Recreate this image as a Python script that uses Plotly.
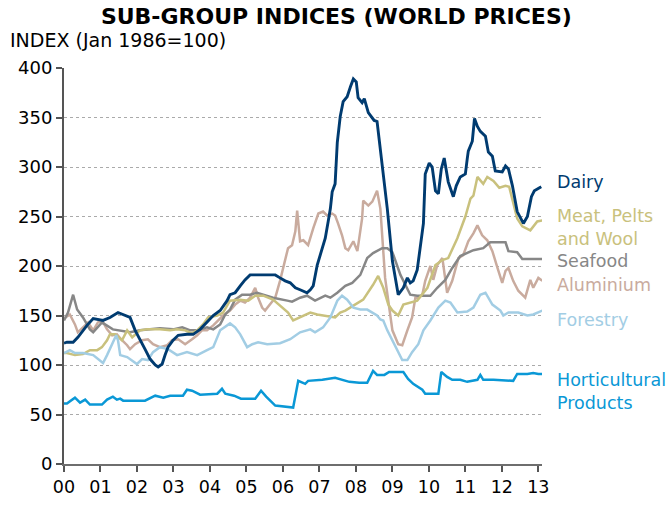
import plotly.graph_objects as go

BASE_YEAR = 2000
tick_labels = ["00", "01", "02", "03", "04", "05", "06", "07", "08", "09", "10", "11", "12", "13"]

# (years since Jan 2000, index value)
dairy_t = [0.00, 0.08, 0.25, 0.38, 0.63, 0.80, 1.07, 1.26, 1.48, 1.67, 1.81, 1.95, 2.08, 2.22, 2.36, 2.50, 2.58, 2.69, 2.77, 2.85, 2.99, 3.13, 3.37, 3.54, 3.73, 3.92, 4.09, 4.28, 4.47, 4.55, 4.69, 4.83, 4.96, 5.10, 5.79, 5.92, 6.06, 6.20, 6.34, 6.47, 6.66, 6.75, 6.83, 6.94, 7.02, 7.16, 7.24, 7.30, 7.35, 7.43, 7.49, 7.57, 7.65, 7.76, 7.85, 7.93, 8.01, 8.06, 8.17, 8.23, 8.34, 8.45, 8.50, 8.58, 8.64, 8.75, 8.86, 9.00, 9.16, 9.30, 9.41, 9.49, 9.57, 9.68, 9.76, 9.85, 9.90, 10.01, 10.09, 10.18, 10.26, 10.34, 10.42, 10.53, 10.67, 10.75, 10.86, 11.00, 11.05, 11.08, 11.19, 11.25, 11.33, 11.41, 11.55, 11.63, 11.74, 11.82, 12.01, 12.10, 12.18, 12.29, 12.42, 12.59, 12.70, 12.81, 12.89, 13.08]
dairy_v = [122, 123, 123, 128, 140, 147, 145, 148, 153, 150, 148, 135, 125, 116, 106, 100, 98, 101, 110, 118, 125, 130, 131, 131, 136, 143, 150, 155, 165, 171, 173, 180, 186, 191, 191, 188, 185, 183, 178, 176, 173, 176, 180, 201, 211, 228, 245, 258, 275, 283, 325, 351, 366, 371, 381, 389, 386, 370, 365, 369, 355, 350, 347, 346, 328, 295, 258, 205, 171, 178, 188, 183, 185, 196, 220, 243, 293, 304, 300, 276, 273, 298, 309, 285, 270, 281, 290, 293, 308, 316, 326, 349, 341, 336, 331, 315, 311, 296, 295, 301, 298, 281, 255, 243, 250, 270, 276, 280]

meat_t = [0.00, 0.08, 0.30, 0.52, 0.71, 0.91, 1.04, 1.18, 1.26, 1.40, 1.59, 1.73, 1.87, 2.08, 2.28, 2.63, 2.91, 3.10, 3.32, 3.51, 3.65, 3.81, 3.95, 4.20, 4.36, 4.55, 4.83, 5.05, 5.24, 5.46, 5.73, 5.98, 6.14, 6.28, 6.47, 6.75, 6.94, 7.10, 7.43, 7.57, 7.71, 7.93, 8.20, 8.47, 8.61, 8.75, 8.89, 9.00, 9.16, 9.30, 9.49, 9.68, 9.96, 10.18, 10.37, 10.53, 10.78, 11.00, 11.14, 11.22, 11.33, 11.49, 11.60, 11.77, 11.93, 12.10, 12.20, 12.31, 12.42, 12.56, 12.78, 12.97, 13.11]
meat_v = [112, 112, 110, 111, 115, 115, 118, 125, 131, 131, 125, 135, 128, 135, 136, 136, 135, 136, 135, 132, 135, 141, 148, 150, 153, 165, 166, 165, 170, 170, 166, 158, 153, 145, 148, 153, 151, 150, 148, 153, 155, 160, 166, 181, 190, 178, 161, 155, 150, 161, 163, 165, 178, 201, 206, 208, 228, 250, 268, 271, 290, 283, 290, 286, 279, 281, 280, 265, 248, 240, 236, 245, 246]

seafood_t = [0.00, 0.11, 0.25, 0.36, 0.52, 0.71, 0.80, 0.91, 1.04, 1.34, 1.54, 1.81, 2.08, 2.28, 2.63, 2.99, 3.24, 3.46, 3.65, 3.92, 4.09, 4.28, 4.42, 4.55, 4.69, 4.88, 5.10, 5.29, 5.46, 5.73, 6.12, 6.25, 6.47, 6.66, 6.88, 7.16, 7.30, 7.49, 7.71, 7.90, 8.12, 8.31, 8.47, 8.72, 8.86, 9.00, 9.22, 9.49, 9.68, 10.04, 10.23, 10.45, 10.64, 10.86, 11.22, 11.49, 11.68, 12.10, 12.18, 12.42, 12.56, 13.11]
seafood_v = [145, 153, 171, 156, 148, 136, 133, 138, 143, 136, 135, 133, 135, 136, 137, 136, 138, 135, 135, 138, 136, 141, 151, 156, 166, 171, 171, 173, 171, 168, 165, 164, 168, 170, 165, 170, 168, 173, 180, 183, 191, 208, 213, 218, 218, 214, 191, 171, 170, 170, 178, 186, 198, 210, 216, 218, 224, 224, 215, 214, 207, 207]

alu_t = [0.00, 0.16, 0.30, 0.38, 0.52, 0.66, 0.80, 0.93, 1.04, 1.18, 1.32, 1.45, 1.59, 1.73, 1.81, 1.95, 2.14, 2.30, 2.44, 2.63, 2.83, 2.96, 3.13, 3.32, 3.51, 3.65, 3.78, 3.92, 4.09, 4.22, 4.36, 4.55, 4.69, 4.83, 4.96, 5.10, 5.24, 5.32, 5.43, 5.51, 5.65, 5.79, 5.92, 6.06, 6.14, 6.25, 6.34, 6.39, 6.47, 6.56, 6.69, 6.83, 6.97, 7.10, 7.21, 7.35, 7.43, 7.51, 7.62, 7.71, 7.79, 7.93, 8.04, 8.17, 8.20, 8.34, 8.45, 8.58, 8.67, 8.80, 9.00, 9.16, 9.27, 9.41, 9.54, 9.63, 9.71, 9.82, 9.90, 10.04, 10.12, 10.23, 10.37, 10.50, 10.64, 10.81, 10.94, 11.08, 11.22, 11.33, 11.46, 11.60, 11.74, 11.88, 12.01, 12.10, 12.18, 12.31, 12.45, 12.64, 12.78, 12.86, 13.00, 13.11]
alu_v = [147, 151, 141, 133, 138, 143, 135, 143, 145, 136, 130, 131, 125, 120, 116, 121, 125, 126, 121, 118, 120, 125, 126, 121, 126, 130, 135, 135, 140, 145, 150, 155, 161, 165, 163, 168, 178, 168, 158, 155, 161, 168, 185, 208, 218, 221, 235, 256, 225, 226, 221, 238, 253, 255, 251, 253, 251, 243, 231, 218, 216, 225, 215, 248, 266, 261, 265, 276, 258, 188, 135, 121, 120, 135, 148, 168, 168, 171, 185, 200, 186, 201, 208, 173, 185, 208, 211, 225, 233, 241, 231, 226, 215, 198, 183, 195, 198, 185, 175, 168, 186, 178, 188, 185]

forestry_t = [0.00, 0.16, 0.30, 0.52, 0.80, 0.93, 1.07, 1.18, 1.32, 1.43, 1.48, 1.54, 1.73, 2.00, 2.14, 2.30, 2.44, 2.63, 2.85, 3.10, 3.37, 3.65, 3.92, 4.09, 4.28, 4.55, 4.69, 4.83, 5.02, 5.16, 5.32, 5.57, 5.92, 6.20, 6.47, 6.75, 6.88, 7.10, 7.30, 7.49, 7.62, 7.76, 7.93, 8.12, 8.31, 8.58, 8.67, 8.75, 8.86, 9.08, 9.27, 9.41, 9.54, 9.71, 9.85, 10.04, 10.26, 10.45, 10.59, 10.78, 11.05, 11.22, 11.41, 11.55, 11.74, 11.96, 12.04, 12.18, 12.45, 12.70, 12.86, 13.11]
forestry_v = [112, 115, 112, 112, 110, 106, 102, 110, 121, 130, 125, 110, 108, 101, 106, 105, 113, 118, 116, 110, 113, 110, 115, 118, 135, 142, 138, 131, 118, 121, 123, 121, 122, 126, 133, 136, 133, 138, 148, 165, 170, 166, 158, 156, 156, 150, 146, 145, 135, 118, 105, 105, 113, 121, 135, 145, 158, 165, 163, 153, 154, 158, 171, 173, 161, 155, 150, 153, 153, 150, 151, 155]

hort_t = [0.00, 0.08, 0.30, 0.44, 0.58, 0.71, 1.04, 1.18, 1.34, 1.45, 1.54, 1.62, 2.22, 2.50, 2.72, 2.91, 3.26, 3.37, 3.51, 3.73, 4.20, 4.33, 4.42, 4.66, 4.85, 5.24, 5.40, 5.54, 5.79, 6.01, 6.28, 6.42, 6.61, 6.69, 7.08, 7.43, 7.82, 8.09, 8.31, 8.47, 8.58, 8.78, 8.91, 9.30, 9.43, 9.57, 9.82, 9.90, 10.26, 10.34, 10.50, 10.64, 10.86, 11.05, 11.33, 11.41, 11.49, 11.77, 12.31, 12.42, 12.70, 12.86, 13.00, 13.11]
hort_v = [61, 61, 67, 62, 65, 60, 60, 65, 68, 65, 66, 64, 64, 69, 67, 69, 69, 75, 74, 70, 71, 76, 71, 69, 66, 66, 74, 68, 59, 58, 57, 84, 81, 84, 85, 87, 83, 82, 82, 94, 90, 90, 93, 93, 86, 81, 75, 71, 71, 93, 88, 85, 85, 83, 85, 90, 85, 85, 84, 91, 91, 92, 91, 91]

series = [
    ("Aluminium", alu_t, alu_v, "#C9AB9E", 2.5),
    ("Seafood", seafood_t, seafood_v, "#878787", 2.5),
    ("Meat, Pelts and Wool", meat_t, meat_v, "#C9C17D", 2.5),
    ("Forestry", forestry_t, forestry_v, "#A2CDE4", 2.5),
    ("Horticultural Products", hort_t, hort_v, "#0A98D6", 2.5),
    ("Dairy", dairy_t, dairy_v, "#003B70", 2.9),
]

labels = [
    ("Dairy", 285, "#003B70"),
    ("Meat, Pelts<br>and Wool", 239, "#C9C17D"),
    ("Seafood", 205, "#878787"),
    ("Aluminium", 181, "#C9AB9E"),
    ("Forestry", 145, "#A2CDE4"),
    ("Horticultural<br>Products", 73, "#0A98D6"),
]

FONT = "Verdana, DejaVu Sans, sans-serif"
PLOT_W = 670 - 64 - 128

fig = go.Figure()
for name, t, v, color, w in series:
    fig.add_trace(go.Scatter(
        x=[BASE_YEAR + d for d in t], y=v, mode="lines", name=name,
        line=dict(color=color, width=w), showlegend=False, hoverinfo="skip"))

for text, yv, color in labels:
    fig.add_annotation(x=(555 - 64) / PLOT_W, xref="paper", y=yv, yref="y", text=text,
                       showarrow=False, xanchor="left", yanchor="middle", align="left",
                       font=dict(family=FONT, size=17.5, color=color))

fig.add_annotation(text="INDEX (Jan 1986=100)", xref="paper", yref="paper",
                   x=-56 / PLOT_W, y=1.0, xanchor="left", yanchor="middle", yshift=28,
                   showarrow=False, font=dict(family=FONT, size=19, color="#000000"))

fig.update_layout(
    width=670, height=509,
    margin=dict(l=64, r=128, t=68, b=41),
    paper_bgcolor="white", plot_bgcolor="white",
    font=dict(family=FONT, size=17, color="#000000"),
    title=dict(text="<b>SUB-GROUP INDICES (WORLD PRICES)</b>", x=0.502, xref="container",
               xanchor="center", y=1 - 16 / 509, yref="container", yanchor="middle",
               font=dict(family=FONT, size=22, color="#000000")),
    xaxis=dict(range=[2000, 2013.1], tickmode="array",
               tickvals=[BASE_YEAR + i for i in range(len(tick_labels))],
               ticktext=tick_labels, showgrid=False, zeroline=False,
               showline=True, linecolor="#6E6E6E", linewidth=2,
               ticks="outside", ticklen=6, tickwidth=1.5, tickcolor="#555555",
               tickfont=dict(family=FONT, size=17.5, color="#000000")),
    yaxis=dict(range=[0, 400], tickvals=list(range(0, 401, 50)),
               showgrid=True, gridcolor="#AAAAAA", griddash="dot", gridwidth=1,
               zeroline=False, showline=True, linecolor="#555555", linewidth=2,
               ticks="outside", ticklen=6, tickwidth=1.5, tickcolor="#555555",
               tickfont=dict(family=FONT, size=18, color="#000000")),
)

fig.write_html("out.html", config={"displayModeBar": False},
               post_script="document.body.style.margin='0';")
